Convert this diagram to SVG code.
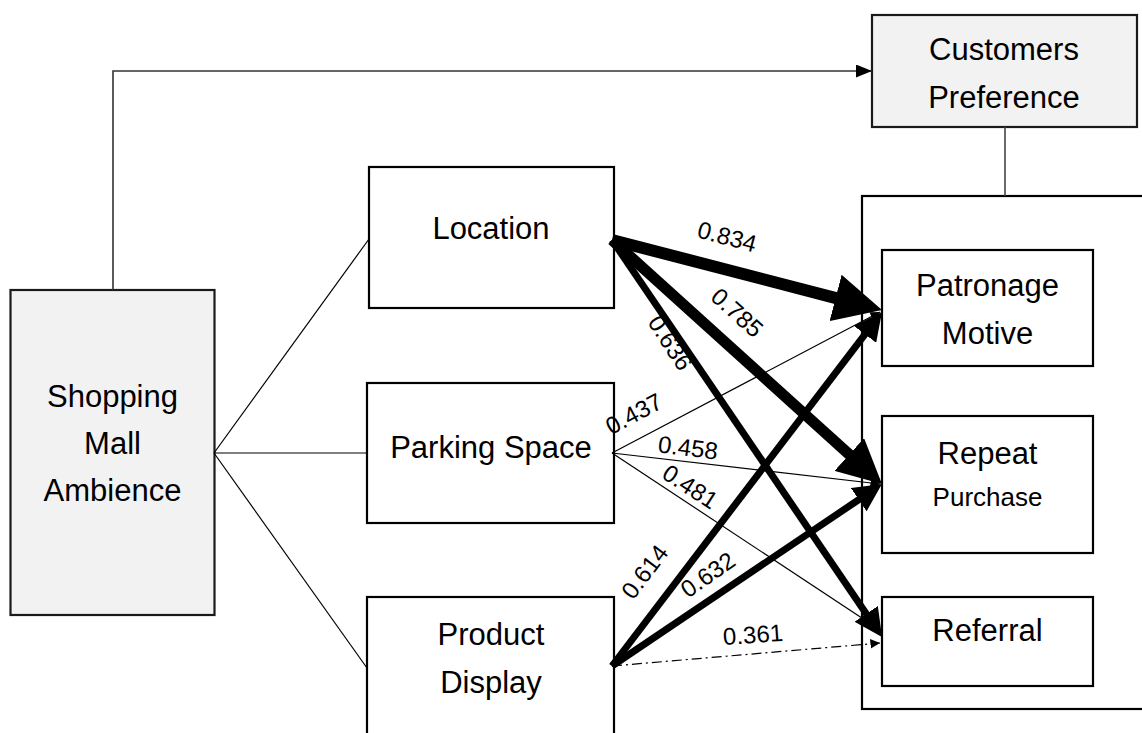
<svg xmlns="http://www.w3.org/2000/svg" width="1142" height="733" viewBox="0 0 1142 733">
<style>
.box{fill:#fff;stroke:#000;stroke-width:2.2}
.gbox{fill:#f2f2f2;stroke:#1a1a1a;stroke-width:2.2}
.lbl{font-family:"Liberation Sans",Arial,sans-serif;font-size:31px;fill:#000;text-anchor:middle}
.num{font-family:"Liberation Sans",Arial,sans-serif;font-size:24px;fill:#000;text-anchor:middle}
.thin{stroke:#000;stroke-width:1.2;fill:none}
.thick{stroke:#000;fill:none}
</style>
<defs>
<marker id="ah" viewBox="0 0 10 10" refX="3" refY="5" markerWidth="4" markerHeight="4" orient="auto" markerUnits="strokeWidth">
<path d="M0,0 L10,5 L0,10 z" fill="#000"/>
</marker>
<marker id="ahs" viewBox="0 0 10 10" refX="10" refY="5" markerWidth="8" markerHeight="8" orient="auto" markerUnits="strokeWidth">
<path d="M0,0 L10,5 L0,10 z" fill="#000"/>
</marker>
<marker id="ahtop" viewBox="0 0 10 10" refX="10" refY="5" markerWidth="16" markerHeight="13" orient="auto" markerUnits="userSpaceOnUse" preserveAspectRatio="none">
<path d="M0,0 L10,5 L0,10 z" fill="#000"/>
</marker>
</defs>

<g id="customers-preference">
<rect class="gbox" x="872" y="15" width="265" height="112"/>
<text class="lbl" x="1004" y="60">Customers</text>
<text class="lbl" x="1004" y="108">Preference</text>
</g>

<g id="outcome-group">
<rect x="862" y="196" width="290" height="513" fill="none" stroke="#000" stroke-width="2.2"/>
</g>

<g id="shopping-mall-ambience">
<rect class="gbox" x="10.5" y="290" width="204" height="325"/>
<text class="lbl" x="112.5" y="407">Shopping</text>
<text class="lbl" x="112.5" y="454">Mall</text>
<text class="lbl" x="112.5" y="501">Ambience</text>
</g>

<g id="location">
<rect class="box" x="369" y="167" width="245" height="141"/>
<text class="lbl" x="491" y="239">Location</text>
</g>

<g id="parking-space">
<rect class="box" x="367" y="383" width="247" height="140"/>
<text class="lbl" x="491" y="458">Parking Space</text>
</g>

<g id="product-display">
<rect class="box" x="367" y="597" width="247" height="150"/>
<text class="lbl" x="491" y="645">Product</text>
<text class="lbl" x="491" y="693">Display</text>
</g>

<g id="patronage-motive">
<rect class="box" x="882" y="250" width="211" height="116"/>
<text class="lbl" x="987.5" y="296">Patronage</text>
<text class="lbl" x="987.5" y="344">Motive</text>
</g>

<g id="repeat-purchase">
<rect class="box" x="882" y="416" width="211" height="137"/>
<text class="lbl" x="987.5" y="464">Repeat</text>
<text class="lbl" x="987.5" y="506" style="font-size:26px">Purchase</text>
</g>

<g id="referral">
<rect class="box" x="882" y="597" width="211" height="89"/>
<text class="lbl" x="987.5" y="641">Referral</text>
</g>

<g id="connectors">
<polyline points="113,290 113,71 872,71" fill="none" stroke="#333" stroke-width="1.6" marker-end="url(#ahtop)"/>
<line x1="1005" y1="127" x2="1005" y2="196" stroke="#444" stroke-width="1.6"/>
<line class="thin" x1="214" y1="453" x2="369" y2="239"/>
<line class="thin" x1="214" y1="453" x2="367" y2="453"/>
<line class="thin" x1="214" y1="453" x2="367" y2="668"/>

<line class="thin" x1="612" y1="453" x2="880" y2="312" marker-end="url(#ahs)"/>
<line class="thin" x1="612" y1="453" x2="880" y2="484" marker-end="url(#ahs)"/>
<line class="thin" x1="612" y1="453" x2="880" y2="630" marker-end="url(#ahs)"/>
<line class="thin" x1="612" y1="666" x2="880" y2="643" stroke-dasharray="10 4 2 4" marker-end="url(#ahs)"/>

<line class="thick" x1="612" y1="240" x2="849.5" y2="301.6" stroke-width="12" marker-end="url(#ah)"/>
<line class="thick" x1="612" y1="240" x2="859.1" y2="463.3" stroke-width="11" marker-end="url(#ah)"/>
<line class="thick" x1="612" y1="240" x2="871" y2="620.8" stroke-width="7" marker-end="url(#ah)"/>
<line class="thick" x1="612" y1="666" x2="870.1" y2="327.6" stroke-width="7" marker-end="url(#ah)"/>
<line class="thick" x1="612" y1="666" x2="865.7" y2="495" stroke-width="7" marker-end="url(#ah)"/>

<text class="num" transform="translate(727,237) rotate(15)" y="8">0.834</text>
<text class="num" transform="translate(737,313) rotate(42)" y="8">0.785</text>
<text class="num" transform="translate(670,343) rotate(57)" y="8">0.636</text>
<text class="num" transform="translate(634,414) rotate(-28)" y="8">0.437</text>
<text class="num" transform="translate(688,448) rotate(7)" y="8">0.458</text>
<text class="num" transform="translate(690,487) rotate(33)" y="8">0.481</text>
<text class="num" transform="translate(645,572) rotate(-53)" y="8">0.614</text>
<text class="num" transform="translate(708,575) rotate(-35)" y="8">0.632</text>
<text class="num" transform="translate(753,635) rotate(-4)" y="8">0.361</text>
</g>
</svg>
